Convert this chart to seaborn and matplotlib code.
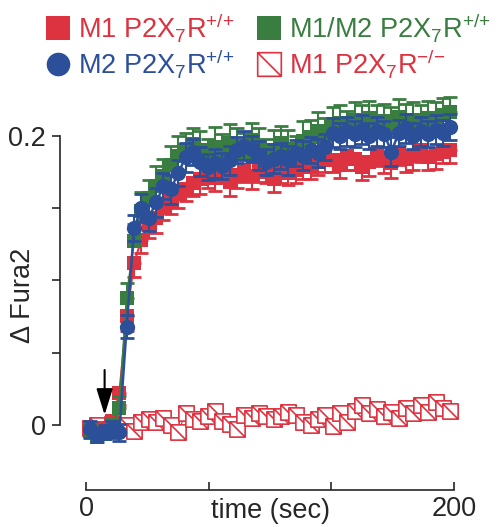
import numpy as np
import matplotlib
matplotlib.use('Agg')
import matplotlib.pyplot as plt
from matplotlib.path import Path
from matplotlib.lines import Line2D
import seaborn as sns

# time points (sec)
time_sec = [2, 6, 10, 14, 18, 22, 26, 30, 34, 38, 42, 46, 50, 54, 58, 62, 66, 70, 74, 78,
            82, 86, 90, 94, 98, 102, 106, 110, 114, 118, 122, 126, 130, 134, 138, 142, 146, 150, 154, 158,
            162, 166, 170, 174, 178, 182, 186, 190, 194, 198]

# M1 P2X7R+/+ (red filled squares)
m1_wt = [-0.002, -0.004, -0.003, 0.003, 0.022, 0.075, 0.112, 0.128, 0.138, 0.143,
         0.150, 0.155, 0.160, 0.163, 0.167, 0.170, 0.172, 0.171, 0.175, 0.168,
         0.173, 0.176, 0.172, 0.178, 0.175, 0.170, 0.177, 0.174, 0.176, 0.180,
         0.178, 0.182, 0.185, 0.183, 0.180, 0.186, 0.184, 0.178, 0.182, 0.187,
         0.183, 0.181, 0.188, 0.184, 0.186, 0.190, 0.185, 0.187, 0.189, 0.190]
m1_wt_err = [0.005, 0.004, 0.004, 0.006, 0.008, 0.010, 0.010, 0.009, 0.009, 0.010,
             0.008, 0.009, 0.010, 0.008, 0.009, 0.010, 0.008, 0.009, 0.008, 0.010,
             0.009, 0.008, 0.009, 0.010, 0.008, 0.009, 0.010, 0.008, 0.009, 0.010,
             0.008, 0.009, 0.010, 0.008, 0.009, 0.010, 0.008, 0.009, 0.010, 0.008,
             0.009, 0.010, 0.008, 0.009, 0.010, 0.008, 0.009, 0.010, 0.008, 0.009]

# M1/M2 P2X7R+/+ (green filled squares)
m12_wt = [-0.004, -0.008, -0.006, -0.002, 0.012, 0.088, 0.127, 0.148, 0.157, 0.165,
          0.172, 0.180, 0.186, 0.190, 0.194, 0.190, 0.186, 0.192, 0.189, 0.195,
          0.193, 0.188, 0.197, 0.192, 0.186, 0.190, 0.195, 0.191, 0.188, 0.196,
          0.199, 0.203, 0.200, 0.206, 0.209, 0.204, 0.211, 0.207, 0.212, 0.208,
          0.210, 0.206, 0.213, 0.209, 0.211, 0.207, 0.212, 0.210, 0.214, 0.216]
m12_wt_err = [0.006, 0.005, 0.005, 0.006, 0.008, 0.010, 0.012, 0.013, 0.012, 0.014,
              0.012, 0.013, 0.014, 0.012, 0.011, 0.013, 0.012, 0.014, 0.012, 0.013,
              0.012, 0.014, 0.012, 0.013, 0.012, 0.014, 0.012, 0.013, 0.012, 0.014,
              0.012, 0.013, 0.012, 0.014, 0.012, 0.013, 0.012, 0.014, 0.012, 0.013,
              0.012, 0.014, 0.012, 0.013, 0.012, 0.014, 0.012, 0.013, 0.012, 0.011]

# M2 P2X7R+/+ (blue circles)
m2_wt = [-0.003, -0.007, -0.005, -0.003, -0.005, 0.068, 0.136, 0.150, 0.143, 0.154,
         0.165, 0.163, 0.174, 0.185, 0.189, 0.182, 0.178, 0.181, 0.179, 0.183,
         0.190, 0.193, 0.191, 0.186, 0.182, 0.184, 0.186, 0.183, 0.188, 0.186,
         0.190, 0.188, 0.192, 0.202, 0.200, 0.203, 0.201, 0.204, 0.200, 0.203,
         0.201, 0.189, 0.202, 0.205, 0.200, 0.203, 0.201, 0.204, 0.202, 0.206]
m2_wt_err = [0.006, 0.005, 0.005, 0.006, 0.006, 0.008, 0.009, 0.010, 0.009, 0.010,
             0.009, 0.010, 0.009, 0.010, 0.009, 0.010, 0.009, 0.010, 0.009, 0.010,
             0.009, 0.010, 0.009, 0.010, 0.009, 0.010, 0.009, 0.010, 0.009, 0.010,
             0.009, 0.010, 0.009, 0.010, 0.009, 0.010, 0.009, 0.010, 0.009, 0.010,
             0.009, 0.010, 0.009, 0.010, 0.009, 0.010, 0.009, 0.010, 0.009, 0.009]

# M1 P2X7R-/- (red open squares)
m1_ko = [-0.002, 0.000, -0.003, 0.001, -0.002, 0.000, -0.004, 0.002, 0.004, 0.002,
         0.005, 0.000, -0.005, 0.008, 0.004, 0.003, 0.006, 0.010, 0.003, 0.001,
         -0.003, 0.007, 0.005, 0.008, 0.006, 0.004, 0.006, 0.009, 0.007, 0.002,
         0.000, 0.004, 0.007, -0.001, 0.008, 0.002, 0.010, 0.014, 0.008, 0.011,
         0.006, 0.009, 0.005, 0.012, 0.008, 0.014, 0.009, 0.016, 0.012, 0.010]
m1_ko_err = [0.003, 0.003, 0.003, 0.003, 0.003, 0.003, 0.004, 0.003, 0.003, 0.004,
             0.003, 0.004, 0.003, 0.004, 0.003, 0.003, 0.004, 0.003, 0.004, 0.003,
             0.004, 0.003, 0.003, 0.004, 0.003, 0.004, 0.003, 0.003, 0.004, 0.003,
             0.004, 0.003, 0.004, 0.003, 0.003, 0.004, 0.003, 0.004, 0.005, 0.003,
             0.004, 0.003, 0.003, 0.004, 0.003, 0.005, 0.003, 0.004, 0.003, 0.004]

labels = ['M1 P2X$_7$R$^{{+}/{+}}$', 'M2 P2X$_7$R$^{{+}/{+}}$',
          'M1/M2 P2X$_7$R$^{{+}/{+}}$', 'M1 P2X$_7$R$^{{-}/{-}}$']

RED = '#DD3340'
GREEN = '#3A7D40'
BLUE = '#2B4F98'
FS = 19.5

sns.set_style('ticks')
plt.rcParams['font.family'] = ['Liberation Sans', 'DejaVu Sans']
plt.rcParams['mathtext.default'] = 'regular'

# open square with a diagonal stroke
box_diag = Path([(-1, -1), (1, -1), (1, 1), (-1, 1), (-1, -1), (-1, 1), (1, -1)],
                [Path.MOVETO, Path.LINETO, Path.LINETO, Path.LINETO, Path.CLOSEPOLY,
                 Path.MOVETO, Path.LINETO])

fig = plt.figure(figsize=(5.01, 5.27), dpi=100)
ax = fig.add_axes([0.12, 0.07, 0.80, 0.755])

t = np.array(time_sec)
zero = np.zeros(len(t))

# -/- series
ax.errorbar(t, m1_ko, yerr=m1_ko_err, fmt='none', ecolor=RED, elinewidth=1.2,
            capsize=4, capthick=1.5, zorder=2)
sns.lineplot(x=t, y=m1_ko, ax=ax, color=RED, lw=0.8, marker=box_diag, markersize=11,
             markerfacecolor='white', markeredgecolor=RED, markeredgewidth=1.2,
             errorbar=None, zorder=2.5)

# M1 +/+
ax.errorbar(t, m1_wt, yerr=[m1_wt_err, zero], fmt='none', ecolor=RED, elinewidth=1.5,
            capsize=5, capthick=2, zorder=3)
sns.lineplot(x=t, y=m1_wt, ax=ax, color=RED, lw=1.5, marker='s', markersize=10.5,
             markeredgewidth=0, errorbar=None, zorder=3.5)

# M1/M2 +/+
ax.errorbar(t, m12_wt, yerr=[zero, m12_wt_err], fmt='none', ecolor=GREEN, elinewidth=1.5,
            capsize=5, capthick=2, zorder=4)
sns.lineplot(x=t, y=m12_wt, ax=ax, color=GREEN, lw=1.5, marker='s', markersize=10.5,
             markeredgewidth=0, errorbar=None, zorder=4.5)

# M2 +/+
ax.errorbar(t, m2_wt, yerr=m2_wt_err, fmt='none', ecolor=BLUE, elinewidth=1.5,
            capsize=5, capthick=2, zorder=5)
sns.lineplot(x=t, y=m2_wt, ax=ax, color=BLUE, lw=1.8, marker='o', markersize=11,
             markeredgewidth=0, errorbar=None, zorder=5.5)

# stimulus arrow
ax.annotate('', xy=(10, 0.007), xytext=(10, 0.038),
            arrowprops=dict(arrowstyle='-|>,head_length=1.6,head_width=0.5',
                            color='black', lw=1.5, shrinkA=0, shrinkB=0,
                            mutation_scale=10), zorder=6)

ax.set_xlim(-14.2, 203.8)
ax.set_ylim(-0.045, 0.23)
for side in ['top', 'right']:
    ax.spines[side].set_visible(False)
ax.spines['left'].set_bounds(0, 0.2)
ax.spines['bottom'].set_bounds(0, 200)
for side in ['left', 'bottom']:
    ax.spines[side].set_linewidth(1.2)

ax.set_yticks([0, 0.05, 0.1, 0.15, 0.2])
ax.set_yticklabels(['0', '', '', '', '0.2'])
ax.set_xticks([0, 200 / 3, 400 / 3, 200])
ax.set_xticklabels(['0', '', '', '200'])
ax.tick_params(axis='y', direction='out', length=6, width=1.2, labelsize=FS, pad=4)
ax.tick_params(axis='x', direction='in', length=6, width=1.2, labelsize=FS, pad=4)

ax.set_xlabel('time (sec)', fontsize=FS)
ax.xaxis.set_label_coords(0.525, -0.02)
ax.set_ylabel('Δ Fura2', fontsize=FS)
ax.yaxis.set_label_coords(-0.06, 0.49)

handles = [
    Line2D([], [], ls='none', marker='s', markersize=17, color=RED, markeredgewidth=0),
    Line2D([], [], ls='none', marker='o', markersize=17, color=BLUE, markeredgewidth=0),
    Line2D([], [], ls='none', marker='s', markersize=17, color=GREEN, markeredgewidth=0),
    Line2D([], [], ls='none', marker=box_diag, markersize=17, markerfacecolor='white',
           markeredgecolor=RED, markeredgewidth=1.2),
]
leg = fig.legend(handles, labels, loc='upper left', bbox_to_anchor=(0.07, 1.0), ncol=2,
                 frameon=False, fontsize=FS, handlelength=0.9, handletextpad=0.3,
                 columnspacing=0.8, labelspacing=0.12, borderaxespad=0)
for txt, c in zip(leg.get_texts(), [RED, BLUE, GREEN, RED]):
    txt.set_color(c)

fig.savefig('out.png', dpi=100)
